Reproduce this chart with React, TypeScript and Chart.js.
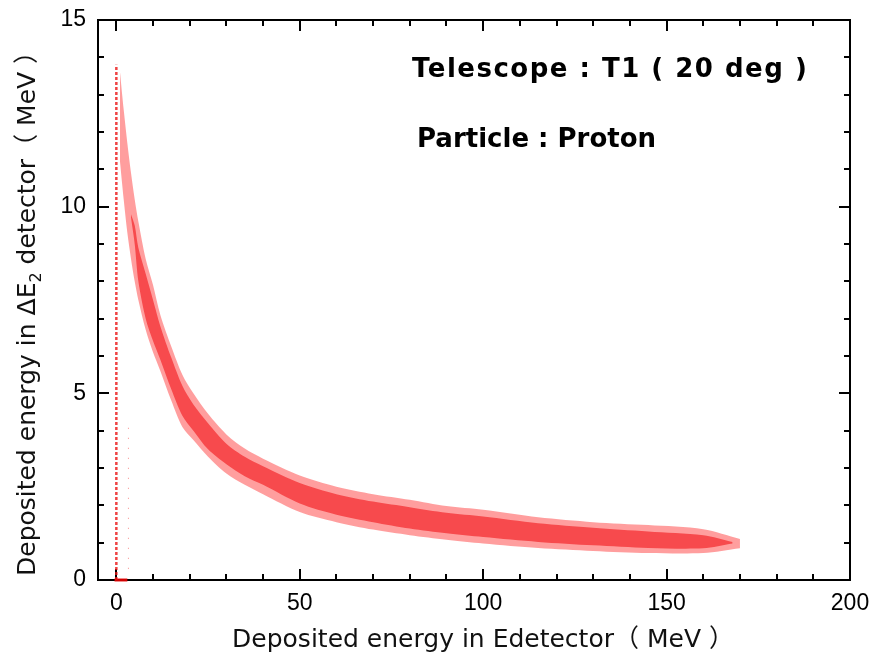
import React, { useEffect, useRef } from "react";
import { Chart, registerables } from "chart.js";

Chart.register(...registerables);

// ---- data ----
const bandX = [1, 2, 3, 4, 5, 6, 8, 10, 12, 15, 18, 21, 25, 30, 35, 40, 50, 60, 70, 80, 90, 100, 115, 130, 145, 160, 170];
const bandUpper = [13.6, 12.6, 11.7, 10.9, 10.2, 9.6, 8.6, 7.9, 7.1, 6.25, 5.5, 5.0, 4.45, 3.9, 3.52, 3.25, 2.8, 2.5, 2.3, 2.15, 1.98, 1.88, 1.68, 1.55, 1.47, 1.36, 1.1];
const bandLower = [11.2, 10.2, 9.3, 8.6, 8.0, 7.5, 6.7, 6.1, 5.6, 4.8, 4.1, 3.75, 3.3, 2.85, 2.55, 2.3, 1.82, 1.55, 1.35, 1.2, 1.08, 0.98, 0.86, 0.78, 0.72, 0.72, 0.85];

const coreX = [4, 5, 6, 8, 10, 12, 15, 18, 21, 25, 30, 35, 40, 50, 60, 70, 80, 90, 100, 115, 130, 145, 160, 168];
const coreUpper = [9.8, 9.5, 8.9, 8.2, 7.5, 6.8, 5.95, 5.2, 4.7, 4.2, 3.65, 3.3, 3.05, 2.6, 2.3, 2.1, 1.95, 1.8, 1.7, 1.52, 1.4, 1.3, 1.2, 1.02];
const coreLower = [9.7, 9.0, 8.0, 7.0, 6.4, 5.9, 5.1, 4.4, 4.0, 3.5, 3.1, 2.78, 2.55, 2.05, 1.75, 1.55, 1.38, 1.25, 1.15, 1.02, 0.93, 0.86, 0.85, 0.98];

// column of events at Edetector ~ 0
const zeroColumnX = [0, 0];
const zeroColumnY = [0, 13.8];
// sparse column near 3 MeV
const sparseColumnX = [3.3, 3.3];
const sparseColumnY = [0.3, 4.3];
// red mark on the baseline
const baseMarkX = [-0.5, 3];
const baseMarkY = [0, 0];

const xTickValues = [0, 50, 100, 150, 200];
const yTickValues = [0, 5, 10, 15];
const xMin = -5, xMax = 200, yMin = 0, yMax = 15;
const xMinorStep = 10, yMinorStep = 1;

const xTitle = "Deposited energy in Edetector（ MeV ）";
const yTitleParts = ["Deposited energy in ", "Δ", "E", "2", " detector（ MeV ）"];
const note1 = "Telescope : T1 ( 20 deg )";
const note2 = "Particle : Proton";

const TICK_FONT = "'Liberation Sans', Arial, sans-serif";
const TITLE_FONT = "'DejaVu Sans', 'Noto Sans CJK JP', sans-serif";

const pts = (xs: number[], ys: number[]) => xs.map((x, i) => ({ x, y: ys[i] }));

const framePlugin = {
  id: "frame",
  beforeDatasetsDraw(chart: any) {
    const { ctx, chartArea: a, scales } = chart;
    const xs = scales.x, ys = scales.y;
    ctx.save();
    ctx.strokeStyle = "#000";
    ctx.lineWidth = 2;
    ctx.strokeRect(a.left, a.top, a.right - a.left, a.bottom - a.top);
    ctx.beginPath();
    for (let v = 0; v <= xMax; v += xMinorStep) {
      const px = Math.round(xs.getPixelForValue(v));
      const len = v % 50 === 0 ? 11 : 6;
      ctx.moveTo(px, a.bottom);
      ctx.lineTo(px, a.bottom - len);
      ctx.moveTo(px, a.top);
      ctx.lineTo(px, a.top + len);
    }
    for (let v = yMin; v <= yMax; v += yMinorStep) {
      const py = Math.round(ys.getPixelForValue(v));
      const len = v % 5 === 0 ? 11 : 6;
      ctx.moveTo(a.left, py);
      ctx.lineTo(a.left + len, py);
      ctx.moveTo(a.right, py);
      ctx.lineTo(a.right - len, py);
    }
    ctx.stroke();
    ctx.restore();
  },
  afterDraw(chart: any) {
    const { ctx } = chart;
    ctx.save();
    ctx.fillStyle = "#111";
    // x title
    ctx.font = `25px ${TITLE_FONT}`;
    ctx.textAlign = "center";
    ctx.textBaseline = "middle";
    ctx.fillText(xTitle, 483, 640);
    // y title (rotated, with subscript)
    ctx.translate(28, 576);
    ctx.rotate(-Math.PI / 2);
    ctx.textAlign = "left";
    ctx.textBaseline = "middle";
    let x = 0;
    yTitleParts.forEach((t, i) => {
      ctx.font = i === 3 ? `16px ${TITLE_FONT}` : `25px ${TITLE_FONT}`;
      const dy = i === 3 ? 9 : 0;
      ctx.fillText(t, x, dy);
      x += ctx.measureText(t).width;
    });
    ctx.restore();
    // annotations
    ctx.save();
    ctx.fillStyle = "#000";
    ctx.textAlign = "left";
    ctx.textBaseline = "alphabetic";
    ctx.font = `bold 26px ${TITLE_FONT}`;
    (ctx as any).letterSpacing = "1.5px";
    ctx.fillText(note1, 412, 77);
    (ctx as any).letterSpacing = "0px";
    ctx.fillText(note2, 417, 147);
    ctx.restore();
  },
};

const zeroPad = (s: any) => {
  s.paddingTop = 0;
  s.paddingBottom = 0;
  s.paddingLeft = 0;
  s.paddingRight = 0;
};

export default function App() {
  const ref = useRef<HTMLCanvasElement | null>(null);
  useEffect(() => {
    if (!ref.current) return;
    const chart = new Chart(ref.current, {
      type: "line",
      data: {
        datasets: [
          { data: pts(bandX, bandUpper), borderWidth: 0, pointRadius: 0, fill: false, tension: 0.3 },
          { data: pts(bandX, bandLower), borderWidth: 0, pointRadius: 0, fill: "-1", backgroundColor: "rgba(255,40,40,0.45)", tension: 0.3 },
          { data: pts(coreX, coreUpper), borderWidth: 0, pointRadius: 0, fill: false, tension: 0.3 },
          { data: pts(coreX, coreLower), borderWidth: 0, pointRadius: 0, fill: "-1", backgroundColor: "rgba(230,0,10,0.6)", tension: 0.3 },
          { data: pts(zeroColumnX, zeroColumnY), borderColor: "rgba(235,20,20,0.8)", borderWidth: 2.5, borderDash: [3, 2], pointRadius: 0, fill: false },
          { data: pts(sparseColumnX, sparseColumnY), borderColor: "rgba(240,60,60,0.6)", borderWidth: 1, borderDash: [1, 9], pointRadius: 0, fill: false },
          { data: pts(baseMarkX, baseMarkY), borderColor: "rgba(230,0,0,0.9)", borderWidth: 3, pointRadius: 0, fill: false, clip: 6 },
        ] as any,
      },
      options: {
        animation: false,
        responsive: false,
        layout: { padding: { top: 20, right: 20, left: 0, bottom: 0 } },
        plugins: { legend: { display: false }, tooltip: { enabled: false } },
        scales: {
          x: {
            type: "linear",
            min: xMin,
            max: xMax,
            grid: { display: false, drawTicks: false },
            border: { display: false },
            afterBuildTicks: (s: any) => { s.ticks = xTickValues.map((v) => ({ value: v })); },
            afterFit: (s: any) => { s.height = 80; zeroPad(s); },
            ticks: { color: "#000", font: { size: 23, family: TICK_FONT }, padding: 10, maxRotation: 0, autoSkip: false },
          },
          y: {
            type: "linear",
            min: yMin,
            max: yMax,
            grid: { display: false, drawTicks: false },
            border: { display: false },
            afterBuildTicks: (s: any) => { s.ticks = yTickValues.map((v) => ({ value: v })); },
            afterFit: (s: any) => { s.width = 98; zeroPad(s); },
            ticks: { color: "#000", font: { size: 23, family: TICK_FONT }, padding: 12, autoSkip: false },
          },
        },
      } as any,
      plugins: [framePlugin],
    });
    return () => chart.destroy();
  }, []);
  return (
    <div style={{ position: "fixed", left: 0, top: 0, width: 870, height: 660, background: "#fff" }}>
      <canvas ref={ref} width={870} height={660} />
    </div>
  );
}
